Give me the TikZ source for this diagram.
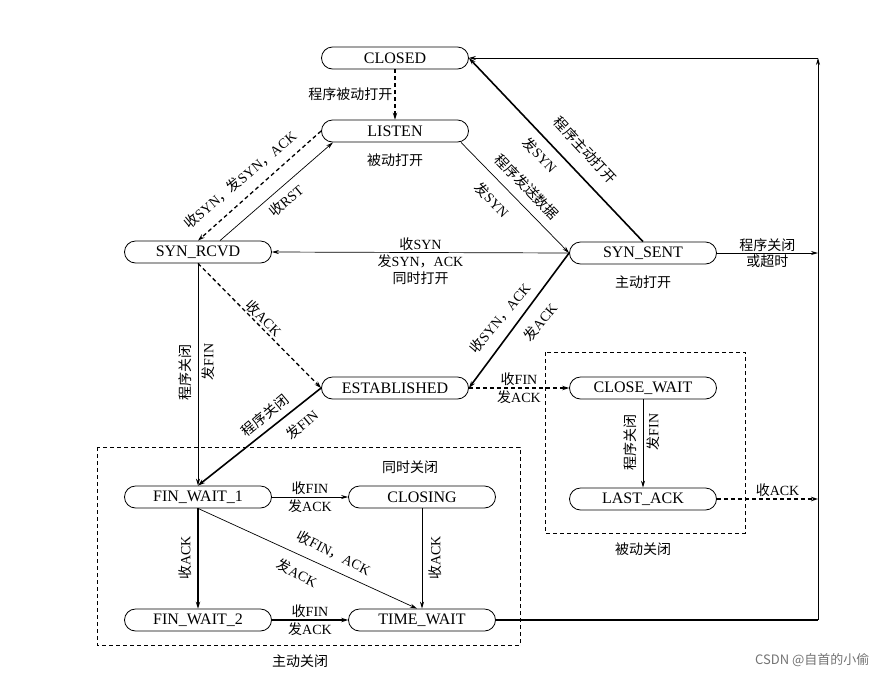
\documentclass[tikz,border=0pt]{standalone}
\usepackage{fontspec}
\setmainfont{Liberation Serif}
\newfontfamily\cjk{Noto Sans CJK SC}
\usetikzlibrary{arrows.meta}
\newcommand\C[1]{{\cjk #1}}
\begin{document}
\begin{tikzpicture}[x=1pt,y=1pt,
  st/.style={draw,line width=0.8pt,rounded corners=11pt,minimum width=147pt,minimum height=22pt,inner sep=0pt,font=\fontsize{16}{18}\selectfont},
  lb/.style={font=\fontsize{14}{16}\selectfont,inner sep=2pt,align=center},
  tn/.style={line width=0.7pt,-{Stealth[length=7pt,width=4pt]}},
  tk/.style={line width=1.6pt,-{Stealth[length=7pt,width=4.5pt]}},
  ds/.style={line width=1.3pt,dash pattern=on 4pt off 3pt,-{Stealth[length=7pt,width=4.5pt]}},
  box/.style={draw,line width=0.7pt,dash pattern=on 4pt off 3pt}]
\useasboundingbox (0,-678) rectangle (887,0);
\draw[box] (97,-447) rectangle (520,-645);
\draw[box] (545,-352) rectangle (745,-533);
\node[st] (closed) at (395,-58) {CLOSED};
\node[st] (listen) at (395,-131) {LISTEN};
\node[st] (rcvd) at (198,-252) {SYN\_RCVD};
\node[st] (sent) at (643,-253) {SYN\_SENT};
\node[st] (est) at (395,-388) {ESTABLISHED};
\node[st] (cw) at (643,-388) {CLOSE\_WAIT};
\node[st] (la) at (643,-499) {LAST\_ACK};
\node[st] (fw1) at (198,-497) {FIN\_WAIT\_1};
\node[st] (cl) at (422,-497) {CLOSING};
\node[st] (fw2) at (198,-620) {FIN\_WAIT\_2};
\node[st] (tw) at (422,-620) {TIME\_WAIT};
\node[lb] at (395,-160) {\C{被动打开}};
\node[lb] at (643,-282) {\C{主动打开}};
\node[lb] at (410,-467) {\C{同时关闭}};
\node[lb] at (300,-661) {\C{主动关闭}};
\node[lb] at (643,-549) {\C{被动关闭}};
\coordinate (rt) at (818,-58);
\coordinate (rs) at (818,-253);
\coordinate (rb) at (818,-620);
\coordinate (ra) at (818,-499);
% edges
\draw[ds] (closed) -- node[lb,left]{\C{程序被动打开}} (listen);
\draw[ds] (listen.west) -- (rcvd.north);
\node[lb,rotate=40] at (240,-180) {\C{收}SYN\C{，发}SYN\C{，}ACK};
\draw[tn] ([xshift=22pt]rcvd.north) -- ([xshift=-62pt]listen.south);
\node[lb,rotate=40] at (286,-201) {\C{收}RST};
\draw[tn] ([xshift=66pt]listen.south) -- (sent.west);
\node[lb,rotate=-46] at (527,-187) {\C{程序发送数据}};
\node[lb,rotate=-46] at (492,-200) {\C{发}SYN};
\draw[tk] (sent.north) -- (closed.east);
\node[lb,rotate=-47] at (585,-150) {\C{程序主动打开}};
\node[lb,rotate=-47] at (540,-155) {\C{发}SYN};
\draw[tn] (sent.west) -- node[lb,above,pos=0.5]{\C{收}SYN} node[lb,below,pos=0.5,align=center]{\C{发}SYN\C{，}ACK\\[1pt]\C{同时打开}} (rcvd.east);
\draw[ds] (rcvd.south) -- (est.west);
\node[lb,rotate=-45] at (264,-318) {\C{收}ACK};
\draw[tk] (sent.west) -- (est.east);
\node[lb,rotate=50] at (500,-318) {\C{收}SYN\C{，}ACK};
\node[lb,rotate=50] at (540,-322) {\C{发}ACK};
\draw[tn] (rcvd.south) -- (fw1.north);
\node[lb,rotate=90] at (185,-372) {\C{程序关闭}};
\node[lb,rotate=90] at (208,-362) {\C{发}FIN};
\draw[tk] (est.west) -- (fw1.north);
\node[lb,rotate=40] at (265,-415) {\C{程序关闭}};
\node[lb,rotate=40] at (302,-425) {\C{发}FIN};
\draw[ds] (est.east) -- node[lb,above]{\C{收}FIN} node[lb,below]{\C{发}ACK} (cw.west);
\draw[tn] (cw) -- (la);
\node[lb,rotate=90] at (630,-442) {\C{程序关闭}};
\node[lb,rotate=90] at (653,-432) {\C{发}FIN};
\draw[ds] (la.east) -- node[lb,above,pos=0.6]{\C{收}ACK} (ra);
\draw[tn] (fw1.east) -- node[lb,above]{\C{收}FIN} node[lb,below]{\C{发}ACK} (cl.west);
\draw[tk] (fw1.south) -- (fw2.north);
\node[lb,rotate=90] at (185,-558) {\C{收}ACK};
\draw[tn] (fw1.south) -- ([xshift=-5pt]tw.north);
\node[lb,rotate=-27] at (334,-553) {\C{收}FIN\C{，}ACK};
\node[lb,rotate=-27] at (297,-573) {\C{发}ACK};
\draw[tn] (cl.south) -- (tw.north);
\node[lb,rotate=90] at (435,-558) {\C{收}ACK};
\draw[tk] (fw2.east) -- node[lb,above]{\C{收}FIN} node[lb,below]{\C{发}ACK} (tw.west);
\draw[tn] (sent.east) -- node[lb,align=center]{\C{程序关闭}\\\C{或超时}} (rs);
\draw[line width=1.6pt] (tw.east) -- (rb);
\draw[tn] (rb) -- (rt);
\draw[tn] (rt) -- (closed.east);
\node[font=\fontsize{13}{15}\selectfont\cjk,text=black!55,anchor=east] at (873,-660) {CSDN @自首的小偷};
\end{tikzpicture}
\end{document}
